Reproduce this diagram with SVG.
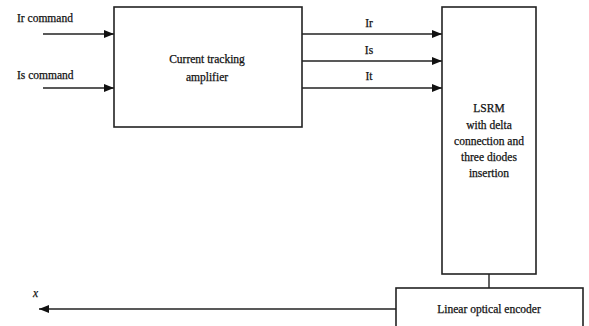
<svg xmlns="http://www.w3.org/2000/svg" width="589" height="326" viewBox="0 0 589 326">
<style>
.box{fill:#fff;stroke:#222;stroke-width:1.6}
.ln{stroke:#222;stroke-width:1.4;fill:none}
.t{font-family:"Liberation Serif",serif;font-size:11.5px;fill:#111;stroke:#111;stroke-width:0.25}
.c{text-anchor:middle}
</style>
<defs>
<marker id="ah" markerWidth="10" markerHeight="8" refX="10" refY="4" orient="auto" markerUnits="userSpaceOnUse">
<path d="M0,0 L10,4 L0,8 Z" fill="#111"/>
</marker>
</defs>
<rect width="589" height="326" fill="#fff"/>
<g id="connectors">
<line class="ln" x1="43" y1="34" x2="114" y2="34" marker-end="url(#ah)"/>
<line class="ln" x1="43" y1="88" x2="114" y2="88" marker-end="url(#ah)"/>
<line class="ln" x1="302" y1="34" x2="442" y2="34" marker-end="url(#ah)"/>
<line class="ln" x1="302" y1="61" x2="442" y2="61" stroke-width="2.2" marker-end="url(#ah)"/>
<line class="ln" x1="302" y1="88" x2="442" y2="88" marker-end="url(#ah)"/>
<line class="ln" x1="489" y1="274" x2="489" y2="288"/>
<line class="ln" x1="396" y1="309" x2="39" y2="309" marker-end="url(#ah)"/>
<text class="t" x="17" y="22">Ir command</text>
<text class="t" x="17" y="79">Is command</text>
<text class="t c" x="369" y="27">Ir</text>
<text class="t c" x="369" y="54">Is</text>
<text class="t c" x="369" y="80">It</text>
<text class="t" x="33" y="297" font-style="italic" stroke-width="0">x</text>
</g>
<g id="amplifier">
<rect class="box" x="114" y="7" width="188" height="120"/>
<text class="t c" x="207" y="63">Current tracking</text>
<text class="t c" x="207" y="81">amplifier</text>
</g>
<g id="lsrm">
<rect class="box" x="442" y="7" width="94" height="267"/>
<text class="t c" x="489" y="112">LSRM</text>
<text class="t c" x="489" y="129">with delta</text>
<text class="t c" x="489" y="145">connection and</text>
<text class="t c" x="489" y="161">three diodes</text>
<text class="t c" x="489" y="177">insertion</text>
</g>
<g id="encoder">
<rect class="box" x="396" y="288" width="187" height="42"/>
<text class="t c" x="489" y="313">Linear optical encoder</text>
</g>
</svg>
